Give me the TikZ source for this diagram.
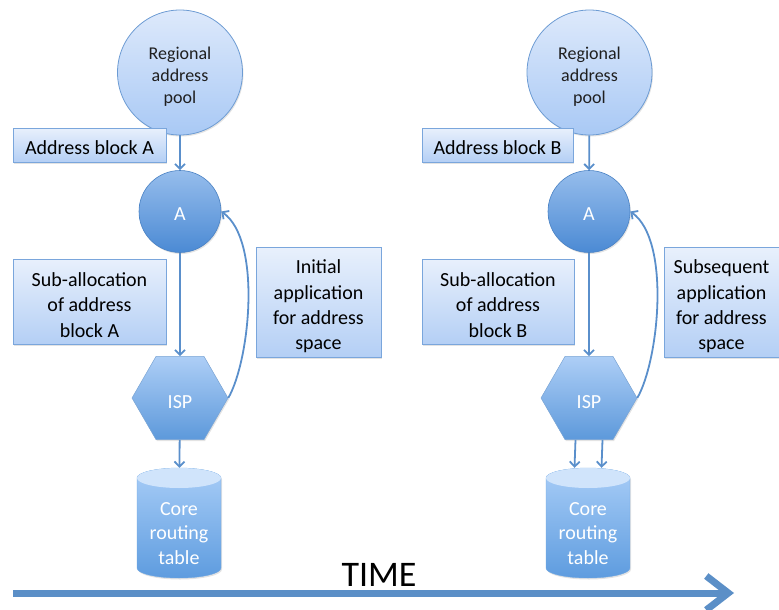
\documentclass[tikz,border=0pt]{standalone}
\usepackage{fontspec}
\setmainfont{Carlito}
\usetikzlibrary{shapes.geometric,arrows.meta,shadows,calc}
\definecolor{linec}{HTML}{5A8FCB}
\definecolor{boxborder}{HTML}{7AA6DC}
\definecolor{boxtop}{HTML}{E8F0FC}
\definecolor{boxbot}{HTML}{B4CFF5}
\definecolor{pooltop}{HTML}{DDE9FB}
\definecolor{poolbot}{HTML}{A9C9F5}
\definecolor{poolborder}{HTML}{6C9BD3}
\definecolor{atop}{HTML}{96BDEC}
\definecolor{abot}{HTML}{4B8AD4}
\definecolor{aborder}{HTML}{4A82C4}
\definecolor{hextop}{HTML}{ADCEF6}
\definecolor{hexbot}{HTML}{5D99DB}
\definecolor{cyltopc}{HTML}{D0E4FB}
\definecolor{cylbtop}{HTML}{A8CDF7}
\definecolor{cylbbot}{HTML}{5E9CDF}
\definecolor{timec}{HTML}{5B8FC7}
\tikzset{
  softshadow/.style={drop shadow={opacity=0.22,shadow xshift=1pt,shadow yshift=-1.5pt}},
  conn/.style={draw=linec, line width=1.8pt, -{Straight Barb[length=5pt,width=10pt]}},
  infobox/.style={rectangle, draw=boxborder, line width=0.8pt, top color=boxtop, bottom color=boxbot,
    inner sep=0pt, softshadow},
  btxt/.style={align=center, font=\fontsize{20}{25.3}\selectfont, inner sep=0pt, text=black},
  wtxt/.style={align=center, font=\fontsize{20}{24.5}\selectfont, inner sep=0pt, text=white},
  pooltxt/.style={align=center, font=\fontsize{18}{22}\selectfont, inner sep=0pt, text=black!88},
  pool/.style={circle, draw=poolborder, line width=0.8pt, top color=pooltop, bottom color=poolbot,
    minimum size=125pt, inner sep=0pt, softshadow},
  acirc/.style={circle, draw=aborder, line width=0.6pt, top color=atop, bottom color=abot,
    minimum size=82pt, inner sep=0pt, softshadow},
  hexa/.style={regular polygon, regular polygon sides=6, minimum size=96pt, inner sep=0pt,
    draw=linec!80, line width=0.5pt, top color=hextop, bottom color=hexbot, softshadow},
  cylbox/.style={rectangle, minimum width=84pt, minimum height=110pt, inner sep=0pt},
  cylbody/.style={top color=cylbtop, bottom color=cylbbot, draw=cylbbot!90, line width=0.4pt, softshadow},
  timeline/.style={draw=timec, line width=7pt, -{Straight Barb[length=22pt,width=34pt]}},
}
\begin{document}
\begin{tikzpicture}[x=1pt,y=-1pt]
\useasboundingbox (0,0) rectangle (779,610);

% ---------- left column ----------
\node[pool] (poolA) at (180,72.5) {};
\node[pooltxt] (poolAt) at ([yshift=-4pt]poolA.center) {Regional\\address\\pool};
\node[infobox, minimum width=153pt, minimum height=34pt] (blkA) at (89.5,145) {};
\node[btxt] (blkAt) at ([yshift=-3pt]blkA.center) {Address block A};
\node[acirc] (aA) at (180,211.5) {};
\node[wtxt] (aAt) at ([yshift=-3pt]aA.center) {A};
\node[infobox, minimum width=153pt, minimum height=85pt] (subA) at (89.5,301.5) {};
\node[btxt] (subAt) at ([yshift=-3.5pt]subA.center) {Sub-allocation\\of address\\block A};
\node[infobox, minimum width=125pt, minimum height=110pt] (initA) at (318.5,302) {};
\node[btxt] (initAt) at ([yshift=-4.5pt]initA.center) {Initial\\application\\for address\\space};
\node[hexa] (ispA) at (180,398) {};
\node[wtxt] (ispAt) at ([yshift=-4.5pt]ispA.center) {ISP};
\path[cylbody] (137,478) -- (137,568) arc (180:0:42 and 10)
   -- (221,478) arc (0:-180:42 and 10) -- cycle;
\path[fill=cyltopc] (179,478) ellipse (42 and 10);
\node[cylbox] (cylA) at (179,523) {};
\node[wtxt] (cylAt) at ([yshift=-10.5pt]cylA.center) {Core\\routing\\table};

\draw[conn] (poolA) -- (aA);
\draw[conn] (aA) -- (ispA);
\draw[conn] (ispA) -- (cylA);
\draw[conn] (ispA.east) .. controls (250,360) and (262,240) .. (aA.east);

% ---------- right column ----------
\node[pool] (poolB) at (589.5,72.5) {};
\node[pooltxt] (poolBt) at ([yshift=-4pt]poolB.center) {Regional\\address\\pool};
\node[infobox, minimum width=151pt, minimum height=34pt] (blkB) at (497.5,145) {};
\node[btxt] (blkBt) at ([yshift=-3pt]blkB.center) {Address block B};
\node[acirc] (aB) at (589,211.5) {};
\node[wtxt] (aBt) at ([yshift=-3pt]aB.center) {A};
\node[infobox, minimum width=152pt, minimum height=85pt] (subB) at (498,301.5) {};
\node[btxt] (subBt) at ([yshift=-3.5pt]subB.center) {Sub-allocation\\of address\\block B};
\node[infobox, minimum width=115pt, minimum height=110pt] (subsB) at (721.5,302) {};
\node[btxt] (subsBt) at ([yshift=-4.5pt]subsB.center) {Subsequent\\application\\for address\\space};
\node[hexa] (ispB) at (589,398) {};
\node[wtxt] (ispBt) at ([yshift=-4.5pt]ispB.center) {ISP};
\path[cylbody] (546,478) -- (546,568) arc (180:0:42 and 10)
   -- (630,478) arc (0:-180:42 and 10) -- cycle;
\path[fill=cyltopc] (588,478) ellipse (42 and 10);
\node[cylbox] (cylB) at (588,523) {};
\node[wtxt] (cylBt) at ([yshift=-10.5pt]cylB.center) {Core\\routing\\table};

\draw[conn] (poolB) -- (aB);
\draw[conn] (aB) -- (ispB);
\draw[conn] ([xshift=-13.5pt]ispB.south) -- ([xshift=-13.5pt]cylB.north);
\draw[conn] ([xshift=13.5pt]ispB.south) -- ([xshift=13.5pt]cylB.north);
\draw[conn] (ispB.east) .. controls (659,360) and (671,240) .. (aB.east);

% ---------- time axis ----------
\node[font=\fontsize{36}{36}\selectfont, anchor=base, inner sep=0pt] (time) at (379,586) {TIME};
\coordinate (t0) at (13,593);
\coordinate (t1) at (734,593);
\draw[timeline] (t0) -- (t1);
\end{tikzpicture}
\end{document}
